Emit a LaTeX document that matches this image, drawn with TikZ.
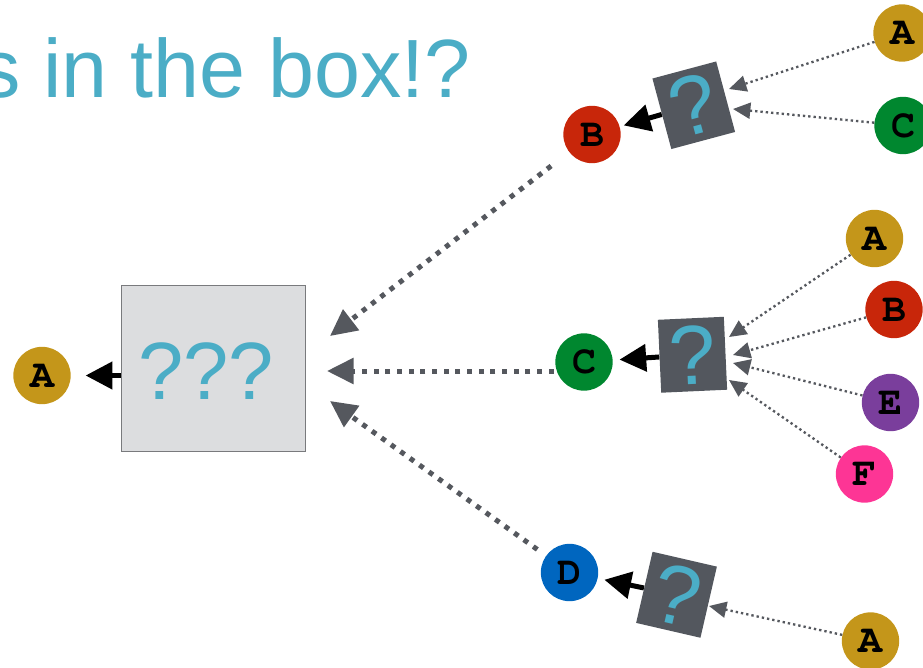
\documentclass[tikz,border=0pt]{standalone}
\usepackage{fontspec}
\setmainfont{Liberation Sans}
\newfontfamily\ballfont{TeX Gyre Cursor}
\usetikzlibrary{arrows.meta}

\definecolor{qblue}{HTML}{4BADC6}
\definecolor{qdark}{HTML}{53575E}
\definecolor{boxfill}{HTML}{DCDDDF}
\definecolor{boxedge}{HTML}{797A7D}
\definecolor{dotgray}{HTML}{55585E}
\definecolor{cgold}{HTML}{C4961A}
\definecolor{cred}{HTML}{C8260A}
\definecolor{cgreen}{HTML}{00872F}
\definecolor{cpurple}{HTML}{7A3E9C}
\definecolor{cpink}{HTML}{FD3595}
\definecolor{cblue}{HTML}{0066BF}

\tikzset{
  ball/.style={circle, fill=#1, minimum size=43pt, inner sep=0pt, text=black,
    font=\ballfont\bfseries\fontsize{30}{30}\selectfont},
  qbox/.style={fill=qdark, minimum width=49.5pt, minimum height=54.75pt,
    inner sep=0pt, text=qblue, font=\fontsize{63}{63}\selectfont},
  solidarrow/.style={draw=black, line width=3.75pt,
    -{Triangle[length=20pt,width=20pt]}},
  bigdots/.style={draw=dotgray, line width=3.75pt,
    dash pattern=on 3.75pt off 5pt,
    -{Triangle[length=20pt,width=19pt]}},
  smalldots/.style={draw=dotgray, line width=1.75pt,
    dash pattern=on 1.75pt off 2.25pt,
    -{Triangle[length=13pt,width=12pt]}},
}

\begin{document}
\begin{tikzpicture}[x=0.75pt, y=-0.75pt]
\useasboundingbox (0,0) rectangle (923,667);

% heading, running off the left edge
\begin{scope}
  \clip (0,0) rectangle (923,667);
  \node[anchor=base east, inner sep=0pt, text=qblue,
        font=\fontsize{62}{66}\selectfont] (title) at (471,97) {s in the box!?};
\end{scope}

% central mystery box and its output
\node[draw=boxedge, line width=0.75pt, fill=boxfill, minimum width=138pt,
      minimum height=125pt, inner sep=0pt] (box) at (213,368.5) {};
\node[inner sep=0pt, text=qblue, font=\fontsize{61}{61}\selectfont] (qqq) at (206,371.5) {???};
\node[ball=cgold] (A0) at (42,375.5) {A};

% three inputs feeding the central box
\node[ball=cred]   (B) at (592,134.5) {B};
\node[ball=cgreen] (C) at (584,362)   {C};
\node[ball=cblue]  (D) at (569.5,572.5) {D};

% small boxes producing each input
\node[qbox, rotate=15]   (q1) at (693.75,105.25) {?};
\node[qbox, rotate=2.6]  (q2) at (692.5,354.75)  {?};
\node[qbox, rotate=-13]  (q3) at (676.5,594.75)  {?};

% their own inputs
\node[ball=cgold]   (A1) at (902,33)    {A};
\node[ball=cgreen]  (C1) at (903,125.5) {C};
\node[ball=cgold]   (A2) at (874.5,238.5) {A};
\node[ball=cred]    (B2) at (894,309.5) {B};
\node[ball=cpurple] (E2) at (890.5,402.5) {E};
\node[ball=cpink]   (F2) at (864.5,474) {F};
\node[ball=cgold]   (A3) at (870.5,641) {A};

% arrow tips landing beside the boxes
\coordinate (tB)  at (330,336);
\coordinate (tC)  at (327,371);
\coordinate (tD)  at (330,401);
\coordinate (t1a) at (729,89);
\coordinate (t1c) at (733,109);
\coordinate (t2a) at (729,337);
\coordinate (t2b) at (733,355);
\coordinate (t2e) at (733,363);
\coordinate (t2f) at (729,380);
\coordinate (t3a) at (709,606);

% outputs
\draw[solidarrow, shorten >=11pt] (box.west |- A0) -- (A0);
\draw[solidarrow, shorten >=3pt] (q1) -- (B);
\draw[solidarrow, shorten >=5pt] (q2) -- (C);
\draw[solidarrow, shorten >=5pt] (q3) -- (D);

% inputs into the central box
\draw[bigdots, shorten <=17pt] (B) -- (tB);
\draw[bigdots, shorten <=1pt] (C.west |- tC) -- (tC);
\draw[bigdots, shorten <=8pt] (D) -- (tD);

% inputs into the small boxes
\draw[smalldots] (A1) -- (t1a);
\draw[smalldots] (C1) -- (t1c);
\draw[smalldots] (A2) -- (t2a);
\draw[smalldots] (B2) -- (t2b);
\draw[smalldots] (E2) -- (t2e);
\draw[smalldots] (F2) -- (t2f);
\draw[smalldots] (A3) -- (t3a);
\end{tikzpicture}
\end{document}
